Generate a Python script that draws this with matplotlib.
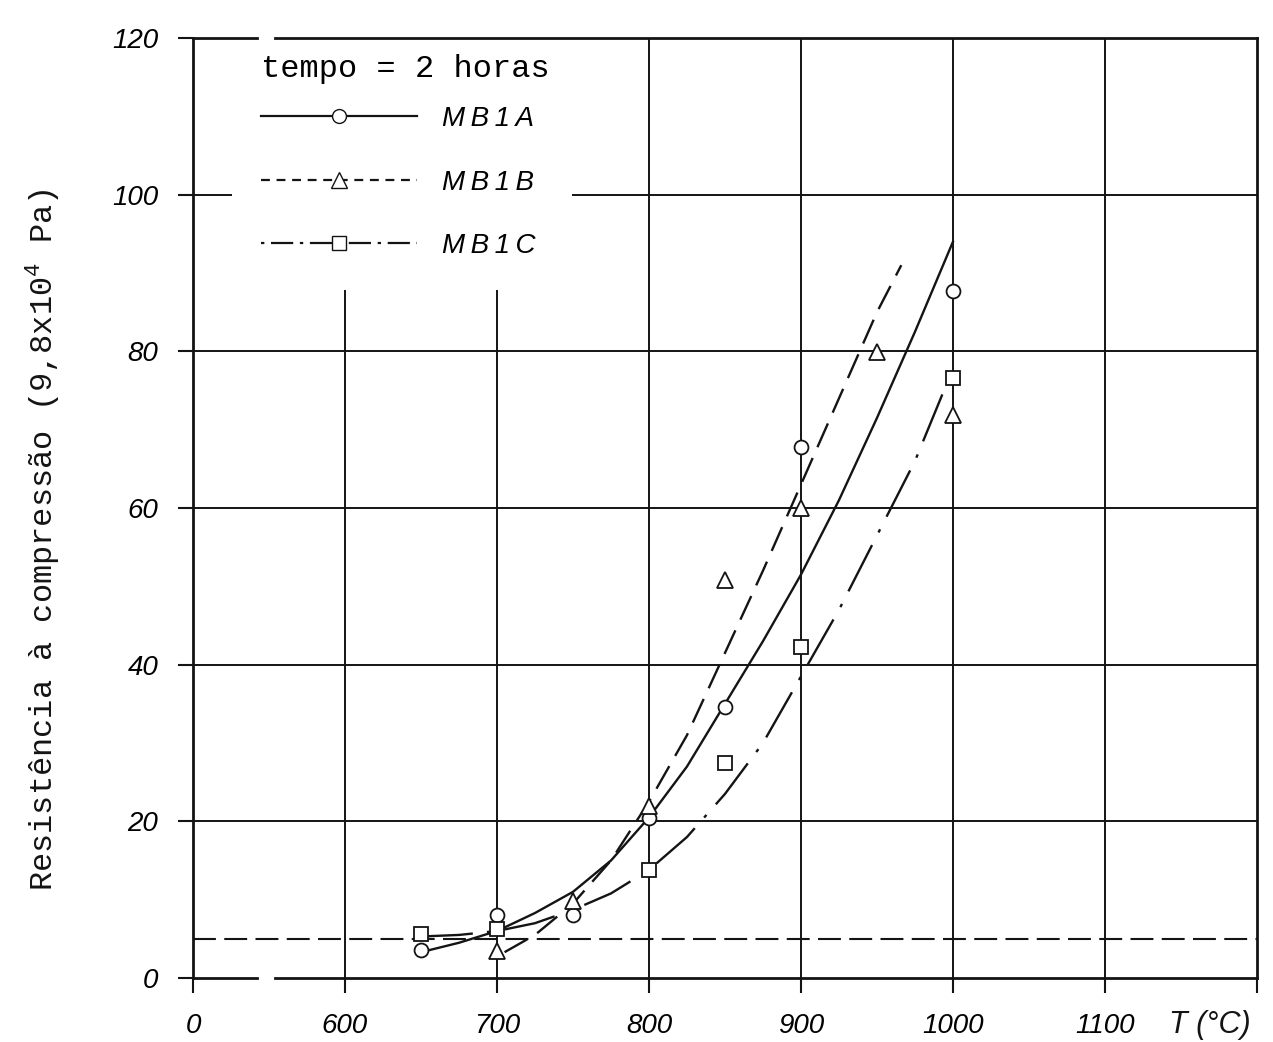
import numpy as np
import matplotlib
matplotlib.use("Agg")
import matplotlib.pyplot as plt
from matplotlib.lines import Line2D
from matplotlib.patches import Rectangle

plt.rcParams['mathtext.fontset'] = 'custom'
plt.rcParams['mathtext.rm'] = 'Liberation Mono'

# ====== measured points (T in C, resistance in 9.8e4 Pa) ======
t_a = [650, 700, 750, 800, 850, 900, 1000]
v_a = [3.6, 8.0, 8.0, 20.4, 34.6, 67.8, 87.7]
t_b = [700, 750, 800, 850, 900, 950, 1000]
v_b = [3.4, 9.8, 21.9, 50.8, 60.0, 79.9, 71.9]
t_c = [650, 700, 800, 850, 900, 1000]
v_c = [5.6, 6.3, 13.8, 27.4, 42.3, 76.6]

# ====== hand-drawn fit curves ======
curve_t_a = [650, 675, 700, 725, 750, 775, 800, 825, 850, 875, 900, 925, 950, 975, 1000]
curve_v_a = [3.3, 4.5, 6.0, 8.3, 11.0, 15.0, 20.5, 27.0, 35.0, 43.0, 51.5, 61.0, 71.5, 82.5, 94.0]
curve_t_b = [705, 725, 750, 775, 800, 825, 850, 875, 900, 925, 950, 966]
curve_v_b = [3.3, 5.5, 9.5, 15.0, 22.5, 31.0, 41.5, 52.0, 63.0, 74.0, 85.0, 91.0]
curve_t_c = [650, 675, 700, 725, 750, 775, 800, 825, 850, 875, 900, 925, 950, 975, 993]
curve_v_c = [5.3, 5.5, 6.0, 7.0, 8.7, 10.8, 13.8, 18.0, 23.5, 30.0, 38.5, 47.0, 56.5, 66.0, 74.5]

limit_value = 5  # horizontal dashed reference

x_ticks = [500, 600, 700, 800, 900, 1000, 1100, 1200]
x_labels = ["0", "600", "700", "800", "900", "1000", "1100", ""]
y_ticks = [0, 20, 40, 60, 80, 100, 120]
series_names = ['M\u2009B\u20091\u2009A', 'M\u2009B\u20091\u2009B', 'M\u2009B\u20091\u2009C']

INK = '#141414'
tick_font = dict(family='Liberation Sans', style='italic', size=20)

fig = plt.figure(figsize=(12.73, 10.42), dpi=100)
ax = fig.add_axes([0.1516, 0.0614, 0.8358, 0.9021])
ax.set_xlim(500, 1200)
ax.set_ylim(0, 120)

# frame: left/right spines normal, top/bottom drawn with the axis-break gap
for s in ['top', 'bottom']:
    ax.spines[s].set_visible(False)
for s in ['left', 'right']:
    ax.spines[s].set_linewidth(2.0)
    ax.spines[s].set_color(INK)
for yv in [0, 120]:
    ax.plot([500, 542], [yv, yv], color=INK, lw=2.0, clip_on=False, zorder=6)
    ax.plot([554, 1200], [yv, yv], color=INK, lw=2.0, clip_on=False, zorder=6)

# grid
for xv in x_ticks[1:-1]:
    ax.axvline(xv, color=INK, lw=1.4, zorder=1)
for yv in y_ticks[1:-1]:
    ax.axhline(yv, color=INK, lw=1.4, zorder=1)
ax.axhline(limit_value, color=INK, lw=1.5, linestyle=(0, (11, 4)), zorder=1)

ax.set_xticks(x_ticks)
ax.set_xticklabels(x_labels, fontdict=tick_font)
ax.set_yticks(y_ticks)
ax.set_yticklabels([str(v) for v in y_ticks], fontdict=tick_font)
ax.tick_params(axis='both', direction='out', length=11, width=1.5, color=INK, pad=14)

# curves
ax.plot(curve_t_a, curve_v_a, color=INK, lw=1.7, zorder=2)
ax.plot(curve_t_b, curve_v_b, color=INK, lw=1.7, linestyle=(0, (11, 5)), zorder=2)
ax.plot(curve_t_c, curve_v_c, color=INK, lw=1.7, linestyle=(0, (22, 6, 1.5, 6)), zorder=2)

mk = dict(markerfacecolor='white', markeredgecolor=INK, markeredgewidth=1.3,
          linestyle='none', zorder=4)
ax.plot(t_a, v_a, marker='o', markersize=10, **mk)
ax.plot(t_b, v_b, marker='^', markersize=12, **mk)
ax.plot(t_c, v_c, marker='s', markersize=10, **mk)

# white area behind the legend (grid is interrupted there)
ax.add_patch(Rectangle((0.0367, 0.732), 0.3195, 0.268, transform=ax.transAxes,
                       facecolor='white', edgecolor='none', zorder=4.5))

handles = [
    Line2D([], [], color=INK, lw=1.6, marker='o', markersize=10,
           markerfacecolor='white', markeredgecolor=INK),
    Line2D([], [], color=INK, lw=1.6, linestyle=(0, (4, 3)), marker='^', markersize=12,
           markerfacecolor='white', markeredgecolor=INK),
    Line2D([], [], color=INK, lw=1.6, linestyle=(0, (1.5, 3, 10, 3)), marker='s', markersize=10,
           markerfacecolor='white', markeredgecolor=INK),
]
leg = ax.legend(handles, series_names,
                title='tempo = 2 horas',
                title_fontproperties=dict(family='Liberation Mono', size=23),
                prop=dict(family='Liberation Sans', style='italic', size=20),
                loc='upper left', bbox_to_anchor=((250 - 193) / 1064, 0.995),
                borderaxespad=0, borderpad=0.4, handlelength=5.6, handletextpad=0.9,
                labelspacing=1.35, numpoints=1, frameon=False, alignment='left')
leg._legend_box.sep = 16
leg.set_zorder(5)

ax.set_ylabel('Resistência à compressão (9,8x10$^{4}$ Pa)',
              family='Liberation Mono', size=23, color=INK)
ax.yaxis.set_label_coords(-0.123, 0.466)
ax.text(0.956, -0.05, 'T (°C)', transform=ax.transAxes, ha='center', va='center',
        family='Liberation Sans', style='italic', size=22, color=INK)

fig.savefig('out.png', dpi=100, facecolor='white')
